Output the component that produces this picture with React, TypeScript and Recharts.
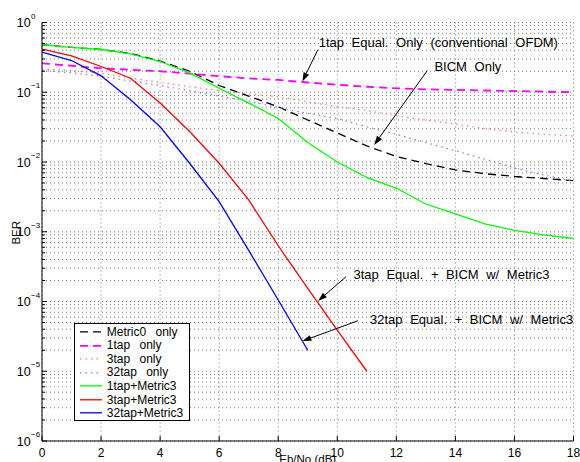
import React from 'react';
import {
  LineChart,
  Line,
  XAxis,
  YAxis,
  CartesianGrid,
  Legend,
  ReferenceLine,
  ReferenceDot,
} from 'recharts';

// Eb/No (dB) sample points
const ebNo = [0, 1, 2, 3, 4, 5, 6, 7, 8, 9, 10, 11, 12, 13, 14, 15, 16, 17, 18];

// BER curves
const metric0Only = [0.48, 0.44, 0.41, 0.36, 0.28, 0.2, 0.125, 0.088, 0.062, 0.04, 0.026, 0.017, 0.012, 0.0095, 0.0077, 0.0068, 0.0062, 0.0058, 0.0054];
const tap1Only = [0.26, 0.24, 0.22, 0.21, 0.2, 0.185, 0.17, 0.158, 0.15, 0.138, 0.128, 0.12, 0.114, 0.11, 0.108, 0.106, 0.104, 0.102, 0.1];
const tap3Only = [0.215, 0.205, 0.188, 0.16, 0.138, 0.12, 0.106, 0.095, 0.086, 0.073, 0.062, 0.055, 0.046, 0.04, 0.035, 0.03, 0.027, 0.025, 0.0235];
const tap32Only = [0.205, 0.19, 0.17, 0.145, 0.125, 0.105, 0.088, 0.075, 0.06, 0.05, 0.042, 0.032, 0.025, 0.019, 0.0145, 0.011, 0.0082, 0.0065, 0.0053];
const tap1Metric3 = [0.48, 0.44, 0.41, 0.355, 0.276, 0.19, 0.114, 0.07, 0.042, 0.019, 0.01, 0.006, 0.0042, 0.0025, 0.0018, 0.0013, 0.00105, 0.0009, 0.0008];
const tap3Metric3 = [0.415, 0.333, 0.234, 0.159, 0.07, 0.0273, 0.0096, 0.00286, 0.00063, 0.000154, 0.000039, 0.00001];
const tap32Metric3 = [0.376, 0.285, 0.172, 0.078, 0.032, 0.0096, 0.0027, 0.00054, 0.000105, 0.00002];

// axis ticks
const xTicks = [0, 2, 4, 6, 8, 10, 12, 14, 16, 18];
const decadeExponents = [-6, -5, -4, -3, -2, -1];
const minorSteps = [1, 2, 3, 4, 5, 6, 7, 8, 9];
const yTicks = [...decadeExponents.flatMap((e) => minorSteps.map((k) => k * Math.pow(10, e))), 1];

// annotations (data coords)
const annotationTexts = [
  '1tap Equal. Only (conventional OFDM)',
  'BICM Only',
  '3tap Equal. + BICM w/ Metric3',
  '32tap Equal. + BICM w/ Metric3',
];
const annotationTextAt = [[9.37, 0.448], [13.29, 0.203], [10.55, 2.1e-4], [11.11, 4.75e-5]];
const arrowFrom = [[9.34, 0.406], [13.05, 0.205], [10.3, 2.27e-4], [10.7, 5.3e-5]];
const arrowTo = [[8.82, 0.1426], [11.25, 0.0176], [9.35, 1.02e-4], [8.82, 2.71e-5]];

const rows = ebNo.map((x, i) => ({
  x,
  metric0Only: metric0Only[i],
  tap1Only: tap1Only[i],
  tap3Only: tap3Only[i],
  tap32Only: tap32Only[i],
  tap1Metric3: tap1Metric3[i],
  tap3Metric3: tap3Metric3[i],
  tap32Metric3: tap32Metric3[i],
}));

const series = [
  { key: 'metric0Only', name: 'Metric0 only', color: '#000000', dash: '8 5', width: 1.3 },
  { key: 'tap1Only', name: '1tap only', color: '#ff00ff', dash: '8 5', width: 1.8 },
  { key: 'tap3Only', name: '3tap only', color: '#ff7878', dash: '1.5 4', width: 1.2 },
  { key: 'tap32Only', name: '32tap only', color: '#7878ff', dash: '1.5 4', width: 1.2 },
  { key: 'tap1Metric3', name: '1tap+Metric3', color: '#00ff00', dash: undefined, width: 1.3 },
  { key: 'tap3Metric3', name: '3tap+Metric3', color: '#ff0000', dash: undefined, width: 1.3 },
  { key: 'tap32Metric3', name: '32tap+Metric3', color: '#0000ff', dash: undefined, width: 1.3 },
];

const FONT = '"Liberation Sans", Arial, Helvetica, sans-serif';

const isDecade = (v: number) => Math.abs(Math.log10(v) - Math.round(Math.log10(v))) < 1e-6;

const LeftTick = ({ x, y, payload }: any) => {
  const v = payload.value;
  const major = isDecade(v);
  const exp = Math.round(Math.log10(v));
  return (
    <g>
      <line x1={x} y1={y} x2={x + (major ? 5 : 3)} y2={y} stroke="#000" />
      {major && (
        <text x={x - 25.3} y={y + 4.5} fontSize={12.5} fontFamily={FONT} fill="#000">
          10
          <tspan fontSize={8} dx={0.5} dy={-8.5}>{exp === 0 ? '0' : `\u2212${-exp}`}</tspan>
        </text>
      )}
    </g>
  );
};

const RightTick = ({ x, y, payload }: any) => {
  const major = isDecade(payload.value);
  return <line x1={x} y1={y} x2={x - (major ? 5 : 3)} y2={y} stroke="#000" />;
};

const BottomTick = ({ x, y, payload }: any) => (
  <g>
    <line x1={x} y1={y} x2={x} y2={y - 5} stroke="#000" />
    <text x={x} y={y + 15.7} textAnchor="middle" fontSize={12} fontFamily={FONT} fill="#000">
      {payload.value}
    </text>
  </g>
);

const TopTick = ({ x, y }: any) => <line x1={x} y1={y} x2={x} y2={y + 5} stroke="#000" />;

const Arrow = ({ x1, y1, x2, y2 }: any) => {
  const ang = Math.atan2(y2 - y1, x2 - x1);
  const len = 9;
  const half = 3;
  const bx = x2 - len * Math.cos(ang);
  const by = y2 - len * Math.sin(ang);
  const px = -Math.sin(ang) * half;
  const py = Math.cos(ang) * half;
  return (
    <g>
      <line x1={x1} y1={y1} x2={bx} y2={by} stroke="#000" strokeWidth={1} />
      <polygon points={`${x2},${y2} ${bx + px},${by + py} ${bx - px},${by - py}`} fill="#000" />
    </g>
  );
};

const LegendBox = () => (
  <div
    style={{
      width: 116,
      height: 98,
      boxSizing: 'border-box',
      border: '1.5px solid #000',
      background: '#fff',
      padding: '1px 0 0 4.5px',
      fontFamily: FONT,
      fontSize: 12,
      color: '#000',
    }}
  >
    {series.map((s) => (
      <div key={s.key} style={{ display: 'flex', alignItems: 'center', height: 13.55, whiteSpace: 'nowrap' }}>
        <svg width={22} height={13.55} style={{ display: 'block' }}>
          <line x1={0} y1={6.8} x2={22} y2={6.8} stroke={s.color} strokeWidth={s.width} strokeDasharray={s.dash} />
        </svg>
        <span style={{ marginLeft: 5.3, wordSpacing: 6 }}>{s.name}</span>
      </div>
    ))}
  </div>
);

export default function App() {
  return (
    <div style={{ position: 'absolute', left: 0, top: 0, width: 580, height: 462, background: '#fff' }}>
      <LineChart width={580} height={462} data={rows} margin={{ top: 22.5, right: 6.5, bottom: 0, left: 0 }}>
        <CartesianGrid stroke="#7a7a7a" strokeDasharray="1 3" />
        <XAxis
          dataKey="x"
          type="number"
          domain={[0, 18]}
          ticks={xTicks}
          interval={0}
          height={21}
          tickSize={0}
          tickMargin={0}
          tick={(p: any) => <BottomTick {...p} />}
          axisLine={{ stroke: '#000' }}
          tickLine={false}
          allowDataOverflow
          label={(p: any) => {
            const vb = p.viewBox ?? { x: 42, y: 441, width: 531.5 };
            return (
              <text x={vb.x + vb.width / 2} y={vb.y + 22} textAnchor="middle" fontSize={11.5} fontFamily={FONT} fill="#000">
                Eb/No (dB)
              </text>
            );
          }}
        />
        <XAxis
          xAxisId="top"
          orientation="top"
          type="number"
          domain={[0, 18]}
          ticks={xTicks}
          interval={0}
          height={0}
          tickSize={0}
          tickMargin={0}
          tick={(p: any) => <TopTick {...p} />}
          axisLine={{ stroke: '#000' }}
          tickLine={false}
          allowDataOverflow
        />
        <YAxis
          scale="log"
          type="number"
          domain={[1e-6, 1]}
          ticks={yTicks}
          interval={0}
          width={42}
          tickSize={0}
          tickMargin={0}
          tick={(p: any) => <LeftTick {...p} />}
          axisLine={{ stroke: '#000' }}
          tickLine={false}
          allowDataOverflow
          label={(p: any) => {
            const vb = p.viewBox ?? { x: 0, y: 22.5, width: 42, height: 418.5 };
            const cy = vb.y + vb.height / 2 + 1;
            return (
              <text x={20.3} y={cy} transform={`rotate(-90, 20.3, ${cy})`} textAnchor="middle" fontSize={11.5} fontFamily={FONT} fill="#000">
                BER
              </text>
            );
          }}
        />
        <YAxis
          yAxisId="right"
          orientation="right"
          scale="log"
          type="number"
          domain={[1e-6, 1]}
          ticks={yTicks}
          interval={0}
          width={0}
          tickSize={0}
          tickMargin={0}
          tick={(p: any) => <RightTick {...p} />}
          axisLine={{ stroke: '#000' }}
          tickLine={false}
          allowDataOverflow
        />
        {series.map((s) => (
          <Line
            key={s.key}
            type="linear"
            dataKey={s.key}
            name={s.name}
            stroke={s.color}
            strokeWidth={s.width}
            strokeDasharray={s.dash}
            dot={false}
            activeDot={false}
            isAnimationActive={false}
          />
        ))}
        {annotationTexts.map((t, i) => (
          <ReferenceLine
            key={`arrow-${i}`}
            segment={[
              { x: arrowFrom[i][0], y: arrowFrom[i][1] },
              { x: arrowTo[i][0], y: arrowTo[i][1] },
            ]}
            ifOverflow="visible"
            shape={(p: any) => <Arrow {...p} />}
          />
        ))}
        {annotationTexts.map((t, i) => (
          <ReferenceDot
            key={`text-${i}`}
            x={annotationTextAt[i][0]}
            y={annotationTextAt[i][1]}
            r={0}
            ifOverflow="visible"
            shape={(p: any) => (
              <text x={p.cx} y={p.cy} fontSize={13} fontFamily={FONT} fill="#000" style={{ wordSpacing: 4 }}>
                {t}
              </text>
            )}
          />
        ))}
        <Legend
          layout="vertical"
          align="center"
          verticalAlign="middle"
          content={() => <LegendBox />}
          wrapperStyle={{ left: 74, top: 323, width: 116, height: 98 }}
        />
      </LineChart>
    </div>
  );
}
